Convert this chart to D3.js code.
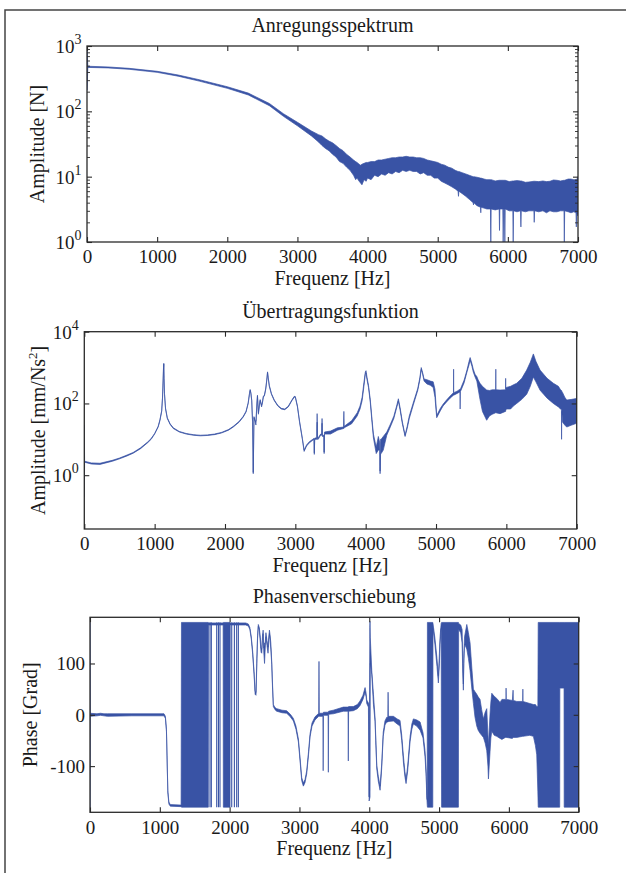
<!DOCTYPE html>
<html><head><meta charset="utf-8">
<script src="https://cdn.jsdelivr.net/npm/d3@7"></script>
<style>
body{margin:0;background:#fff}
text{font-family:"Liberation Serif","Times New Roman",serif;fill:#1a1a1a}
</style>
</head><body>
<svg id="c" width="626" height="873"></svg>
<script>
// ---------- data ----------
const freqTicks = [0,1000,2000,3000,4000,5000,6000,7000];
const titles = ["Anregungsspektrum","Übertragungsfunktion","Phasenverschiebung"];
const xLabel = "Frequenz [Hz]";
const specExp = [0,1,2,3];          // 10^k tick labels, panel 1
const frfExp = [0,2,4];             // 10^k tick labels, panel 2
const phaseTicks = [-100,0,100];

// [frequency Hz, lower value, upper value] of the plotted trace (band where noisy)
const excitation = [
[0,210,900],[12,470,490],[300,462,478],[600,440,455],[1000,395,410],[1300,345,360],[1600,290,305],
[2000,225,238],[2300,178,190],[2600,122,132],[2800,84,92],[3000,60,68],[3200,42,50],[3300,34,44],
[3350,30,42],[3400,27,38],[3450,25,35],[3500,22,33],[3550,20,30],[3600,17,27],[3650,16,25],[3700,14,22],
[3750,12.5,20],[3800,10.5,18],[3830,9,17],[3850,9.5,16.5],[3880,8.5,15.5],[3900,8,15],[3920,7.5,15.5],
[3950,9,16],[3980,8.5,16.5],[4000,9.5,16.5],[4050,9,17],[4100,10.5,17],[4150,10,18],[4200,11,18],
[4250,10.5,18.5],[4300,11.5,19],[4350,11,19.5],[4400,12,19.5],[4450,11.5,20],[4500,12.5,20],
[4550,12,20.5],[4600,12.5,20],[4650,12,20],[4700,12,19.5],[4750,11,19.5],[4800,11.5,19],[4850,10.5,18],
[4900,10.5,17.5],[4950,9.5,17],[5000,9.5,16.5],[5050,8.5,15.5],[5100,8,15],[5150,7.5,14],[5200,7,13.5],
[5250,6.5,12.5],[5290,6,12],[5296,5,12],[5302,6,12],[5350,5.5,11.5],[5400,5,11],[5450,4.5,10.5],
[5505,4,10],[5510,3.7,10],[5515,4,10],[5560,3.6,9.8],[5610,3.4,9.5],[5614,2.8,9.5],[5618,3.4,9.5],
[5660,3.3,9.2],[5700,3.2,9],[5752,3.2,9],[5757,1,9],[5762,3.2,9],[5820,3.1,8.6],[5876,3.2,8.8],
[5881,1.5,8.8],[5886,3.2,8.8],[5928,3.2,8.8],[5933,1,8.8],[5940,3.2,8.8],[5952,3.2,8.8],[5957,1,8.8],
[5962,3.2,8.8],[6020,3,8.4],[6071,3,8.6],[6076,1,8.6],[6081,3,8.6],[6130,2.9,8.7],[6181,3,8.6],
[6186,1.7,8.6],[6191,3,8.6],[6250,2.9,8.2],[6300,3,8.3],[6371,3,8.5],[6376,2,8.5],[6381,3,8.5],
[6440,2.9,8.4],[6500,3,8.6],[6550,2.8,8.4],[6600,3,8.5],[6650,2.9,8.9],[6700,2.9,8.8],[6750,3,8.6],
[6800,3,8.8],[6805,1,8.8],[6810,3,8.8],[6860,2.9,9.2],[6900,2.8,9.2],[6940,2.9,9],[6971,2.8,9],
[6976,1.7,9],[6981,2.8,9],[7000,2.5,10]
];

const frf = [
[0,0.25,25],[4,2.3,2.45],[100,2.05,2.2],[223,2.0,2.15],[400,2.45,2.6],[500,2.85,3],[600,3.4,3.6],
[695,4.1,4.3],[800,5.5,5.8],[900,8,8.4],[950,10,10.5],[1000,14,14.6],[1050,22,23],[1075,33,35],
[1100,60,63],[1112,140,150],[1120,400,430],[1126,900,1000],[1130,1250,1320],[1134,450,500],
[1140,180,190],[1155,70,74],[1180,38,40],[1220,26,27],[1265,20,21],[1350,16,16.6],[1450,14,14.5],
[1550,13,13.5],[1650,12.5,13],[1750,12.8,13.3],[1850,13.5,14],[1950,15,15.6],[2050,18,18.7],
[2118,22,23],[2200,30,31.5],[2260,42,44],[2300,58,61],[2330,100,105],[2348,180,190],[2358,230,245],
[2368,190,200],[2380,120,125],[2392,30,32],[2402,1.1,1.2],[2412,40,43],[2430,30,33],[2440,25,32],
[2455,100,110],[2462,160,170],[2475,50,55],[2490,90,95],[2500,120,128],[2520,80,88],[2535,110,118],
[2545,150,160],[2560,160,170],[2580,250,270],[2595,450,480],[2605,720,760],[2615,500,520],
[2630,300,320],[2660,180,190],[2700,120,126],[2750,85,89],[2800,70,73],[2850,67,70],[2900,80,84],
[2950,118,124],[2985,150,158],[3000,148,155],[3030,80,85],[3060,30,32],[3100,10,10.6],[3125,4.6,5],
[3160,6.5,7],[3200,8,8.6],[3265,10,10.6],[3270,3.8,4.2],[3275,10,10.8],[3305,10,11],[3310,30,52],
[3315,10,11],[3325,10,11],[3360,13,14],[3375,13,14],[3380,28,38],[3385,12,13],[3405,12,13],
[3410,4,4.4],[3415,14,16],[3500,14,17],[3600,18,21],[3685,20,22],[3690,20,60],[3695,21,23],
[3800,27,33],[3880,45,55],[3920,70,85],[3950,120,150],[3975,300,380],[3995,650,750],[4005,700,820],
[4020,450,520],[4040,280,320],[4065,110,130],[4090,30,36],[4110,11,14],[4150,4,6],[4180,5,12],
[4200,5,8],[4205,1.1,1.3],[4212,4,10],[4220,4,10],[4250,5,12],[4300,13,16],[4350,22,26],[4400,38,44],
[4440,75,85],[4465,115,135],[4490,65,75],[4520,28,32],[4560,12,13],[4590,20,23],[4620,38,45],
[4680,95,110],[4740,230,260],[4770,450,520],[4790,880,1000],[4810,650,720],[4830,420,480],
[4870,350,460],[4920,320,420],[4960,280,400],[4985,150,250],[5010,40,46],[5060,62,72],[5100,85,95],
[5150,110,125],[5200,140,160],[5248,170,200],[5250,170,900],[5252,170,200],[5300,190,220],
[5340,210,250],[5343,70,250],[5346,220,250],[5350,220,260],[5400,380,450],[5440,750,850],
[5470,1200,1500],[5485,1600,1900],[5510,1100,1300],[5530,750,900],[5555,550,650],[5580,420,560],
[5600,250,450],[5625,130,365],[5660,60,300],[5720,34,236],[5760,45,230],[5800,50,240],[5848,55,240],
[5850,55,900],[5852,55,240],[5910,52,236],[5988,60,240],[5990,60,500],[5992,65,260],[6000,70,280],
[6060,70,300],[6100,85,330],[6147,100,365],[6220,130,500],[6289,180,850],[6340,300,1400],
[6384,545,2400],[6420,400,1500],[6479,235,850],[6530,180,650],[6580,140,500],[6668,100,365],
[6740,80,300],[6770,70,240],[6783,70,230],[6785,10,230],[6788,60,220],[6800,30,200],[6830,25,150],
[6858,22,124],[6930,25,130],[7000,28,138]
];

const phase = [
[0,-180,180],[3,-3,3],[100,-2,2],[150,-1,3],[200,-2,2],[250,-3,2],[600,-2,2],[1060,-2,2],
[1080,-7,-3],[1095,-32,-28],[1105,-92,-88],[1115,-152,-148],[1130,-174,-170],[1150,-178,-175],
[1305,-179,-176],[1310,-180,180],[1695,-180,180],[1698,175,179],[1907,175,179],[1910,-180,180],
[2006,-180,180],[2009,175,179],[2230,175,179],[2268,173,177],[2290,166,170],[2310,148,152],
[2330,118,124],[2350,78,84],[2365,40,46],[2378,38,44],[2390,100,110],[2400,148,154],[2411,172,176],
[2425,165,170],[2440,140,150],[2450,122,130],[2460,120,128],[2470,145,152],[2480,158,165],
[2490,120,130],[2500,100,140],[2510,130,140],[2520,152,160],[2535,135,145],[2550,120,132],
[2560,140,150],[2570,158,165],[2580,145,155],[2590,128,140],[2603,98,104],[2615,50,58],[2626,16,20],
[2650,10,14],[2674,7,12],[2750,4,9],[2817,3,8],[2870,-4,1],[2913,-12,-7],[2950,-28,-22],
[2985,-53,-47],[3010,-92,-86],[3032,-128,-122],[3056,-139,-133],[3080,-132,-126],[3104,-115,-109],
[3130,-78,-72],[3152,-43,-37],[3180,-22,-16],[3223,-10,-4],[3276,-3,3],[3280,-3,104],[3284,-3,3],
[3336,-3,3],[3340,-109,3],[3344,-1,5],[3410,-1,5],[3414,-112,5],[3418,1,7],[3486,2,9],[3629,7,15],
[3696,7,15],[3700,-90,15],[3704,7,16],[3772,8,16],[3830,12,20],[3868,18,27],[3910,30,38],
[3940,44,53],[3955,35,42],[3964,22,29],[3988,15,23],[3995,-100,20],[3998,-168,-160],[4008,-162,170],
[4011,-160,182],[4015,100,150],[4036,78,86],[4060,20,40],[4083,-13,-6],[4095,-60,-50],
[4108,-106,-99],[4130,-130,-120],[4155,-147,-139],[4168,-125,-115],[4179,-102,-94],[4200,-42,-34],
[4225,-20,-12],[4250,-14,-5],[4266,-14,-5],[4270,-14,44],[4274,-13,-3],[4346,-12,-3],[4400,-18,-8],
[4441,-22,-11],[4465,-50,-40],[4489,-92,-80],[4510,-120,-110],[4527,-134,-126],[4550,-110,-100],
[4585,-52,-42],[4610,-28,-18],[4632,-18,-8],[4680,-22,-10],[4728,-30,-14],[4770,-45,-35],
[4799,-82,-70],[4815,-120,-110],[4823,-157,-148],[4830,-175,-165],[4833,-180,180],[4910,-180,180],
[4913,168,178],[4940,138,150],[4970,94,110],[4990,62,76],[5005,100,120],[5014,138,152],[5030,168,178],
[5036,-180,180],[5277,-180,180],[5280,166,178],[5310,160,175],[5330,140,166],[5340,80,100],
[5348,48,60],[5355,100,120],[5365,138,152],[5397,128,176],[5420,110,160],[5444,86,140],[5470,50,90],
[5492,22,50],[5515,-5,45],[5540,-22,40],[5560,-30,35],[5587,-36,30],[5610,-40,10],[5635,-44,-8],
[5660,-55,5],[5683,-70,12],[5700,-100,-40],[5707,-125,-60],[5718,-100,-30],[5730,-72,2],
[5742,-45,25],[5755,-32,42],[5790,-40,36],[5826,-42,32],[5874,-46,24],[5900,-48,30],[5950,-44,30],
[5958,-44,30],[5960,-44,52],[5962,-44,30],[6050,-46,28],[6060,-44,48],[6064,-44,28],[6113,-44,26],
[6198,-42,26],[6200,-42,50],[6202,-42,26],[6300,-40,22],[6351,-42,20],[6380,-60,20],[6399,-78,16],
[6415,-150,16],[6420,-180,180],[6728,-180,180],[6730,52,180],[6790,52,180],[6792,-180,180],
[7000,-180,180]
];
// single phase-wrap jumps (+180 -> -180) drawn as vertical lines
const phaseWraps = [1719,1738,1815,1840,1862,2030,2068,2101,2125];

// ---------- drawing ----------
const svg = d3.select("#c");
const BLUE = "#3953a5", AX = "#2a2a2a";
const FONT = '"Liberation Serif","Times New Roman",serif';

svg.append("rect").attr("x",5).attr("y",10).attr("width",700).attr("height",900)
  .attr("fill","none").attr("stroke","#444").attr("stroke-width",1.5);

function panel(o, idx){
  const g = svg.append("g");
  const x = d3.scaleLinear().domain([0,7000]).range([o.x0,o.x1]);
  const y = o.y;
  const cid = "clip"+idx;
  svg.append("clipPath").attr("id",cid).append("rect")
    .attr("x",o.x0).attr("y",o.y0).attr("width",o.x1-o.x0).attr("height",o.y1-o.y0);
  const area = d3.area().x(d=>x(d[0])).y0(d=>y(d[1])).y1(d=>y(d[2]));
  const dg = g.append("g").attr("clip-path","url(#"+cid+")");
  dg.append("path").datum(o.data).attr("d",area)
    .attr("fill",BLUE).attr("stroke",BLUE).attr("stroke-width",0.7).attr("stroke-linejoin","round");
  if(o.wraps){
    dg.selectAll("line.w").data(o.wraps).enter().append("line")
      .attr("x1",d=>x(d)).attr("x2",d=>x(d)).attr("y1",y(-180)).attr("y2",y(180))
      .attr("stroke",BLUE).attr("stroke-width",1.1);
  }
  // x axes (inward ticks)
  const xb = d3.axisBottom(x).tickValues(freqTicks).tickFormat(d3.format("d"))
    .tickSizeInner(-5).tickSizeOuter(0).tickPadding(8);
  const ga = g.append("g").attr("transform",`translate(0,${o.y1})`).call(xb);
  const xt = d3.axisTop(x).tickValues(freqTicks).tickSizeInner(-5).tickSizeOuter(0).tickFormat("");
  const gt = g.append("g").attr("transform",`translate(0,${o.y0})`).call(xt);
  [ga,gt].forEach(s=>{s.attr("font-family",FONT); s.select(".domain").remove();
    s.selectAll("line").attr("stroke",AX).attr("stroke-width",1.1);});
  ga.selectAll("text").attr("font-size",19).attr("fill","#1a1a1a");
  // y ticks
  const yl = d3.axisLeft(y).tickValues(o.yTicks).tickSizeInner(-5).tickSizeOuter(0).tickFormat("");
  const yr = d3.axisRight(y).tickValues(o.yTicks).tickSizeInner(-5).tickSizeOuter(0).tickFormat("");
  const gl = g.append("g").attr("transform",`translate(${o.x0},0)`).call(yl);
  const gr = g.append("g").attr("transform",`translate(${o.x1},0)`).call(yr);
  [gl,gr].forEach(s=>{s.select(".domain").remove(); s.selectAll("line").attr("stroke",AX).attr("stroke-width",1.1);});
  if(o.minor){
    const ml = d3.axisLeft(y).tickValues(o.minor).tickSizeInner(-3).tickSizeOuter(0).tickFormat("");
    const mr = d3.axisRight(y).tickValues(o.minor).tickSizeInner(-3).tickSizeOuter(0).tickFormat("");
    [g.append("g").attr("transform",`translate(${o.x0},0)`).call(ml),
     g.append("g").attr("transform",`translate(${o.x1},0)`).call(mr)]
     .forEach(s=>{s.select(".domain").remove(); s.selectAll("line").attr("stroke",AX).attr("stroke-width",0.9);});
  }
  // y labels
  if(o.exps){
    o.exps.forEach(k=>{
      const t = g.append("text").attr("x",o.x0-5.5).attr("y",y(Math.pow(10,k))+7)
        .attr("text-anchor","end").attr("font-size",19).text("10");
      t.append("tspan").attr("dy",-9).attr("font-size",14).text(k);
    });
  } else {
    o.yTicks.forEach(v=>{
      g.append("text").attr("x",o.x0-5).attr("y",y(v)+7).attr("text-anchor","end")
        .attr("font-size",19).text(v);
    });
  }
  // frame
  g.append("rect").attr("x",o.x0).attr("y",o.y0).attr("width",o.x1-o.x0).attr("height",o.y1-o.y0)
    .attr("fill","none").attr("stroke",AX).attr("stroke-width",1.3);
  // titles
  g.append("text").attr("x",(o.x0+o.x1)/2).attr("y",o.y0-14).attr("text-anchor","middle")
    .attr("font-size",20).text(o.title);
  g.append("text").attr("x",(o.x0+o.x1)/2).attr("y",o.y1+43).attr("text-anchor","middle")
    .attr("font-size",20).text(xLabel);
  const yt = g.append("text").attr("transform",`translate(${o.ylx},${(o.y0+o.y1)/2}) rotate(-90)`)
    .attr("text-anchor","middle").attr("font-size",20);
  o.ylab.forEach(p=>{
    const ts = yt.append("tspan").text(p.t);
    if(p.sup){ ts.attr("font-size",13).attr("dy",-8); }
    if(p.after){ ts.attr("dy",8); }
  });
}

function minorTicks(lo,hi){
  const m=[]; for(let k=lo;k<hi;k++) for(let j=2;j<=9;j++) m.push(j*Math.pow(10,k)); return m;
}

// panel 1
panel({x0:87,x1:578,y0:46,y1:242,
  y:d3.scaleLog().domain([1,1000]).range([242,46]).clamp(true),
  data:excitation, yTicks:specExp.map(k=>Math.pow(10,k)), exps:specExp, minor:minorTicks(0,3),
  title:titles[0], ylx:44, ylab:[{t:"Amplitude [N]"}]},1);
// panel 2
panel({x0:84.3,x1:576.7,y0:331.7,y1:529,
  y:d3.scaleLog().domain([Math.pow(10,-1.5),1e4]).range([529,331.7]).clamp(true),
  data:frf, yTicks:frfExp.map(k=>Math.pow(10,k)), exps:frfExp,
  title:titles[1], ylx:45, ylab:[{t:"Amplitude [mm/Ns"},{t:"2",sup:true},{t:"]",after:true}]},2);
// panel 3
panel({x0:90,x1:578.7,y0:617.3,y1:812.3,
  y:d3.scaleLinear().domain([-190,190]).range([812.3,617.3]),
  data:phase, wraps:phaseWraps, yTicks:phaseTicks,
  title:titles[2], ylx:37, ylab:[{t:"Phase [Grad]"}]},3);
</script>
</body></html>
